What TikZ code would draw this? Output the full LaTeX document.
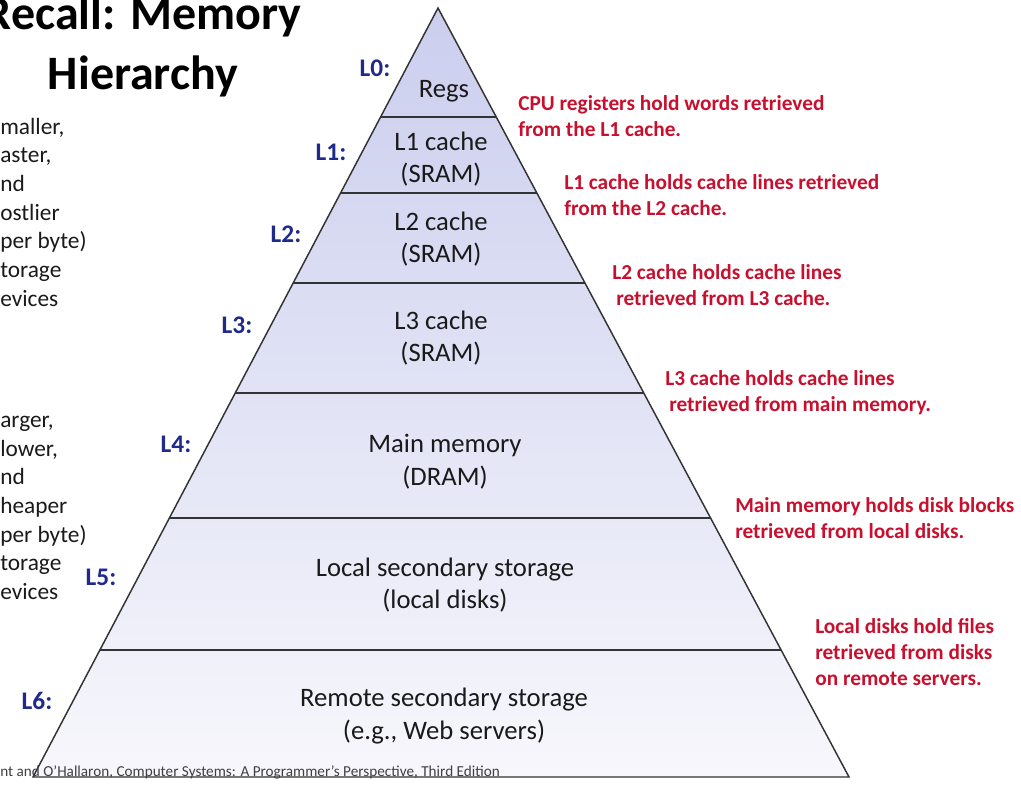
\documentclass[tikz,border=0pt]{standalone}
\usepackage{fontspec}
\setmainfont{Carlito}
\usetikzlibrary{calc}
\definecolor{Ink}{HTML}{1A1A1A}
\definecolor{Edge}{HTML}{333333}
\definecolor{Navy}{HTML}{1F2A8A}
\definecolor{Crimson}{HTML}{C8102E}
\definecolor{TierTop}{HTML}{CBCEEE}
\definecolor{TierBottom}{HTML}{F7F7FC}
\definecolor{Muted}{HTML}{404040}
\tikzset{
  titletext/.style={align=center,font=\fontsize{36}{45}\selectfont\bfseries,text=black,inner sep=0pt},
  sidetext/.style={anchor=west,align=left,font=\fontsize{17.5}{21.5}\selectfont,text=Ink,inner sep=0pt},
  tiertext/.style={align=center,font=\fontsize{20}{24.5}\selectfont,text=Ink,inner sep=0pt},
  levelmark/.style={font=\fontsize{19}{23}\selectfont\bfseries,text=Navy,inner sep=0pt},
  notetext/.style={anchor=west,align=left,font=\fontsize{16}{19.5}\selectfont\bfseries,text=Crimson,inner sep=0pt},
  tierline/.style={draw=Edge,line width=1.1pt}
}

\begin{document}
\begin{tikzpicture}[x=0.75pt,y=-0.75pt]
  \useasboundingbox (0,0) rectangle (1021,799);
  % pyramid
  \coordinate (apex) at (438,8);
  \coordinate (bl) at (33,777);
  \coordinate (br) at (849,777);
  \shade[top color=TierTop,bottom color=TierBottom] (apex) -- (bl) -- (br) -- cycle;
  \foreach \t in {0.1417,0.2406,0.3576,0.5007,0.6632,0.8349}
    \draw[tierline] ($(apex)!\t!(bl)$) -- ($(apex)!\t!(br)$);
  \draw[tierline] (apex) -- (bl) -- (br) -- cycle;

  \node[titletext] (title) at (143,46) {Recall: Memory\\Hierarchy};
  \node[sidetext] (small) at (0,212) {maller,\\aster,\\nd\\ostlier\\per byte)\\torage\\evices};
  \node[sidetext] (large) at (0,508) {arger,\\lower,\\nd\\heaper\\per byte)\\torage\\evices};

  % tiers
  \node[tiertext] (regs) at (444,91) {Regs};
  \node[tiertext] (l1) at (441,159) {L1 cache\\(SRAM)};
  \node[tiertext] (l2) at (441,239) {L2 cache\\(SRAM)};
  \node[tiertext] (l3) at (441,338) {L3 cache\\(SRAM)};
  \node[tiertext] (dram) at (445,462) {Main memory\\(DRAM)};
  \node[tiertext] (disk) at (445,585) {Local secondary storage\\(local disks)};
  \node[tiertext] (remote) at (444,716) {Remote secondary storage\\(e.g., Web servers)};

  \node[levelmark] (m0) at (375,68) {L0:};
  \node[levelmark] (m1) at (331,152) {L1:};
  \node[levelmark] (m2) at (286,234) {L2:};
  \node[levelmark] (m3) at (237,325) {L3:};
  \node[levelmark] (m4) at (176,444) {L4:};
  \node[levelmark] (m5) at (101,577) {L5:};
  \node[levelmark] (m6) at (37,701) {L6:};

  % notes
  \node[notetext] (n0) at (518,116) {CPU registers hold words retrieved\\from the L1 cache.};
  \node[notetext] (n1) at (564,195) {L1 cache holds cache lines retrieved\\from the L2 cache.};
  \node[notetext] (n2) at (612,285) {L2 cache holds cache lines\\\hspace*{3pt}retrieved from L3 cache.};
  \node[notetext] (n3) at (665,393) {L3 cache holds cache lines\\\hspace*{3pt}retrieved from main memory.};
  \node[notetext] (n4) at (735,518) {Main memory holds disk blocks\\retrieved from local disks.};
  \node[notetext] (n5) at (815,652) {Local disks hold files\\retrieved from disks\\on remote servers.};

  \node[anchor=base west,inner sep=0pt,font=\fontsize{11.4}{13}\selectfont,text=Muted] (credit) at (0,776)
    {nt and O’Hallaron, Computer Systems: A Programmer’s Perspective, Third Edition};
\end{tikzpicture}
\end{document}
